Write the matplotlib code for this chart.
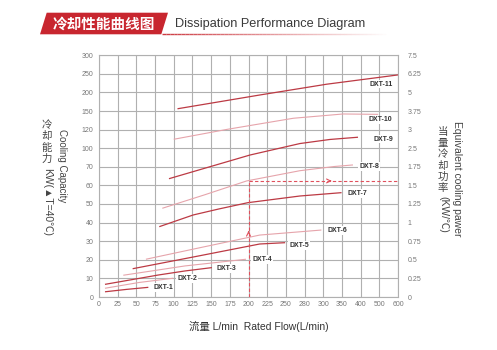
import numpy as np
import matplotlib
matplotlib.use("Agg")
import matplotlib.pyplot as plt
from matplotlib.patches import Polygon
from matplotlib.collections import LineCollection

plt.rcParams['font.family'] = ['Liberation Sans', 'Noto Sans CJK SC', 'DejaVu Sans']

# Axis tick values (the grid is evenly spaced, the values are not)
flow_ticks = [0, 25, 50, 75, 100, 125, 150, 175, 200, 225, 250, 280, 300, 350, 400, 500, 600]
capacity_ticks = [0, 10, 20, 30, 40, 50, 60, 70, 100, 120, 150, 200, 250, 300]
rate_ticks = [0, 0.25, 0.5, 0.75, 1, 1.25, 1.5, 1.75, 2.5, 3, 3.75, 5, 6.25, 7.5]

# Cooling capacity curves: flow (L/min) and capacity (kW)
dxt1_flow = [8, 37, 66]
dxt1_kw = [2.8, 4.1, 5.2]
dxt2_flow = [8, 53.5, 99.4]
dxt2_kw = [4.7, 7.8, 10.1]
dxt3_flow = [8, 79, 115, 151]
dxt3_kw = [6.8, 11.8, 14.0, 15.8]
dxt4_flow = [32.5, 115, 196.6]
dxt4_kw = [11.7, 16.7, 20.3]
dxt5_flow = [45, 135, 215, 249]
dxt5_kw = [15.2, 22.2, 28.5, 29.2]
dxt6_flow = [62.8, 135, 215, 298]
dxt6_kw = [20.3, 26.5, 33.3, 36]
dxt7_flow = [80.6, 126, 160, 199, 272.5, 349]
dxt7_kw = [37.8, 44.1, 47.3, 50.7, 54.3, 56.1]
dxt8_flow = [84.7, 141.8, 197.5, 272.5, 330, 379.5]
dxt8_kw = [47.7, 55, 62.4, 67.9, 70.5, 73]
dxt9_flow = [93.6, 202, 272.5, 318, 393]
dxt9_kw = [63.6, 89, 105, 109.4, 111.8]
dxt10_flow = [100, 171, 262, 353, 494]
dxt10_kw = [109.6, 120.3, 138.3, 145.2, 144.6]
dxt11_flow = [105, 215, 309, 600]
dxt11_kw = [156, 193, 222, 247]

models = ['DXT-1', 'DXT-2', 'DXT-3', 'DXT-4', 'DXT-5', 'DXT-6',
          'DXT-7', 'DXT-8', 'DXT-9', 'DXT-10', 'DXT-11']
curves = [(dxt1_flow, dxt1_kw), (dxt2_flow, dxt2_kw), (dxt3_flow, dxt3_kw),
          (dxt4_flow, dxt4_kw), (dxt5_flow, dxt5_kw), (dxt6_flow, dxt6_kw),
          (dxt7_flow, dxt7_kw), (dxt8_flow, dxt8_kw), (dxt9_flow, dxt9_kw),
          (dxt10_flow, dxt10_kw), (dxt11_flow, dxt11_kw)]
label_flow = [85.6, 117.7, 170, 218, 271, 336.5, 390, 445, 520, 506, 509]
label_kw = [5, 10, 15.4, 20.3, 27.8, 35.6, 55.8, 71, 109.8, 135.6, 222.5]

# Reading example: 200 L/min on DXT-8
guide_flow = 200
guide_kw = 62.4


def grid_scale(ticks):
    idx = np.arange(len(ticks), dtype=float)
    fwd = lambda v: np.interp(v, ticks, idx)
    inv = lambda i: np.interp(i, idx, ticks)
    return fwd, inv


fig = plt.figure(figsize=(4.97, 3.5), dpi=100)
fig.patch.set_facecolor('white')

# pixel-space overlay for the heading and axis titles
bg = fig.add_axes([0, 0, 1, 1])
bg.set_xlim(0, 497)
bg.set_ylim(350, 0)
bg.axis('off')

ax = fig.add_axes([99 / 497, 53 / 350, 299 / 497, 241.8 / 350])
ax.set_xscale('function', functions=grid_scale(flow_ticks))
ax.set_yscale('function', functions=grid_scale(capacity_ticks))
ax.set_xlim(0, 600)
ax.set_ylim(0, 300)
ax.set_xticks(flow_ticks)
ax.set_xticklabels([f'{t:g}' for t in flow_ticks])
ax.set_yticks(capacity_ticks)
ax.set_yticklabels([f'{t:g}' for t in capacity_ticks])
ax.grid(True, color='#b0b0b0', lw=0.8)
ax.set_axisbelow(True)
for s in ax.spines.values():
    s.set_color('#b0b0b0')
    s.set_linewidth(0.8)
ax.tick_params(axis='x', length=0, pad=3, labelsize=5, labelcolor='#777777')
ax.tick_params(axis='y', length=0, pad=4, labelsize=5, labelcolor='#777777')

ax2 = ax.twinx()
ax2.set_yscale('function', functions=grid_scale(rate_ticks))
ax2.set_ylim(0, 7.5)
ax2.set_yticks(rate_ticks)
ax2.set_yticklabels([f'{t:g}' for t in rate_ticks])
ax2.tick_params(axis='y', length=0, pad=7, labelsize=5, labelcolor='#777777')
for s in ax2.spines.values():
    s.set_visible(False)

dark = '#bc3a44'
light = '#e6a4ab'
for i, (name, (fx, fy)) in enumerate(zip(models, curves)):
    col = dark if i % 2 == 0 else light
    ax.plot(fx, fy, color=col, lw=0.9 if i % 2 == 0 else 0.8, solid_capstyle='butt',
            solid_joinstyle='round')
    ax.text(label_flow[i], label_kw[i], name, fontsize=5, fontweight='bold',
            color='#333333', ha='center', va='center',
            bbox=dict(facecolor='white', edgecolor='none', pad=0.6))

# dashed reading guide
guide_col = '#e0505c'
ax.plot([guide_flow, guide_flow], [0, guide_kw], color=guide_col, lw=0.8, ls=(0, (3, 2)))
ax.plot([guide_flow, 600], [guide_kw, guide_kw], color=guide_col, lw=0.8, ls=(0, (3, 2)))
ax.annotate('', xy=(guide_flow, 37), xytext=(guide_flow, 33),
            arrowprops=dict(arrowstyle='->', color=guide_col, lw=0.8, mutation_scale=7))
ax.annotate('', xy=(330, guide_kw), xytext=(310, guide_kw),
            arrowprops=dict(arrowstyle='->', color=guide_col, lw=0.8, mutation_scale=7))

# heading banner
bg.add_patch(Polygon([(40, 34.3), (46.7, 12.7), (168, 12.7), (161.3, 34.3)],
                     closed=True, facecolor='#c8262f', edgecolor='none'))
bg.text(104, 23.5, '冷却性能曲线图', color='white', fontsize=10.5, fontweight='bold',
        family=['Noto Sans CJK SC'], ha='center', va='center')
bg.text(175, 24, 'Dissipation Performance Diagram', color='#3a3a3a', fontsize=9.2,
        ha='left', va='center')
xs = np.linspace(162, 390, 60)
segs = [[(xs[k], 33.6), (xs[k + 1], 33.6)] for k in range(len(xs) - 1)]
alphas = np.linspace(0.9, 0.0, len(segs))
bg.add_collection(LineCollection(segs, colors=[(0.78, 0.15, 0.18, a) for a in alphas], lw=1.0))

# left axis title
bg.text(62, 166, 'Cooling Capacity', rotation=-90, fontsize=7, color='#444444',
        ha='center', va='center')
for k, ch in enumerate('冷却能力'):
    bg.text(47, 125 + k * 11.3, ch, fontsize=7.5, color='#444444', ha='center', va='center')
bg.text(47, 168, 'KW(▲T=40℃)', rotation=-90, fontsize=7.5, color='#444444',
        ha='center', va='top')

# right axis title
bg.text(457, 179, 'Equivalent cooling pawer', rotation=-90, fontsize=7.5, color='#444444',
        ha='center', va='center')
for k, ch in enumerate('当量冷却功率'):
    bg.text(443, 132 + k * 11.2, ch, fontsize=7.5, color='#444444', ha='center', va='center')
bg.text(443, 196, '(KW/℃)', rotation=-90, fontsize=7.5, color='#444444',
        ha='center', va='top')

# bottom axis title
bg.text(259, 326, '流量 L/min  Rated Flow(L/min)', fontsize=7.5, color='#333333',
        ha='center', va='center')

fig.savefig('out.png', dpi=100)
